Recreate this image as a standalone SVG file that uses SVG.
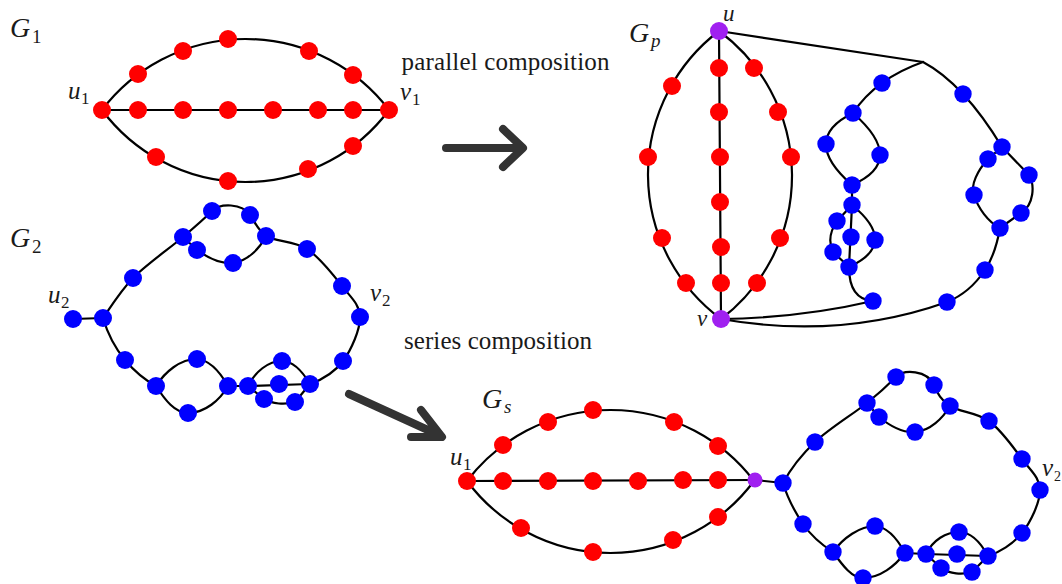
<svg xmlns="http://www.w3.org/2000/svg" width="1062" height="584" viewBox="0 0 1062 584">
<style>
.e{fill:none;stroke:#000;stroke-width:2.2;stroke-linecap:round}
.r{fill:#ff0000}
.b{fill:#0000ff}
.p{fill:#a020f0}
.m{font-family:"Liberation Serif","Times New Roman",serif;font-style:italic;fill:#1a1a1a}
.s{font-family:"Liberation Serif","Times New Roman",serif;fill:#1a1a1a}
.t{font-family:"Liberation Serif","Times New Roman",serif;font-size:25px;fill:#1a1a1a}
.arr{fill:none;stroke:#333;stroke-width:8;stroke-linecap:round;stroke-linejoin:round}
</style>
<rect width="1062" height="584" fill="#fff"/>

<g id="connectors">
  <!-- G1 -->
  <path class="e" d="M102,110 L389,110"/>
  <path class="e" d="M102,110 A180.5,180.5 0 0 1 389,110"/>
  <path class="e" d="M102,110 A179,179 0 0 0 389,110"/>
  <!-- G2 -->
  <path class="e" d="M73,319 L103,318"/>
  <path class="e" d="M103,318 C108,311 120,291.5 133,278 C146.3,264.5 169.8,248.2 183,237 C196.2,225.8 203,220 212,211 C220,203 242,203 250,215 C256,224 258,230 266,236 C275.5,241.7 294.3,240.7 307,249 C319.7,257.3 333.2,274.7 342,286 C350.8,297.3 359.8,304.5 360,317 C360.2,329.5 351.3,349.8 343,361 C334.7,372.2 320.7,380.2 310,384"/>
  <path class="e" d="M183,237 L197,250 C208,258 220,264 233,263 C248,261 260,248 266,236"/>
  <path class="e" d="M103,318 C108,335 115,348 125,360 C135,372 145,380 156,386"/>
  <path class="e" d="M156,386 C165,372 180,359 197,359 C210,360 220,372 228,386"/>
  <path class="e" d="M156,386 C165,400 175,413 188,413 C205,413 220,400 228,386"/>
  <path class="e" d="M228,386 L248,386"/>
  <path class="e" d="M248,386 C255,372 268,361 282,361 C294,361 304,374 310,384"/>
  <path class="e" d="M248,386 L310,384"/>
  <path class="e" d="M248,386 L264,399 C272,404 285,405 295,402 L310,384"/>
  <!-- Gp -->
  <path class="e" d="M719,31 L721,319"/>
  <path class="e" d="M719,31 A180,180 0 0 0 721,319"/>
  <path class="e" d="M719,31 A180,180 0 0 1 721,319"/>
  <path class="e" d="M719,31 L923,62"/>
  <path class="e" d="M923,62 Q876,78.5 853,113"/>
  <path class="e" d="M923,62 Q963.5,83.5 1002,147"/>
  <path class="e" d="M853,113 Q799.5,139 852,185"/>
  <path class="e" d="M853,113 Q907.5,161 852,185"/>
  <path class="e" d="M852,185 L852,205"/>
  <path class="e" d="M852,205 L849,267"/>
  <path class="e" d="M852,205 Q899.5,244 849,267"/>
  <path class="e" d="M852,205 L837,221 Q826,237 833,252 L849,267"/>
  <path class="e" d="M849,267 C849,290 858,300 873,301"/>
  <path class="e" d="M873,301 Q800,318 721,319"/>
  <path class="e" d="M1002,147 L988,159 C978,170 970,185 974,195 C978,208 988,222 1000,228"/>
  <path class="e" d="M1002,147 L1029,175 C1035,185 1034,205 1021,213 L1000,228"/>
  <path class="e" d="M1000,228 C997,245 993,258 985,270 C975,285 962,296 947,302 Q840,340 721,319"/>
  <!-- Gs red -->
  <path class="e" d="M467,481 L755,480"/>
  <path class="e" d="M467,481 A180.5,180.5 0 0 1 754,481"/>
  <path class="e" d="M467,481 A179,179 0 0 0 754,481"/>
  <path class="e" d="M755,480 L783,483"/>
  <!-- Gs blue -->
  <path class="e" d="M783,483 C790,470 801,455.3 815,442 C829,428.7 853.5,413.8 867,403 C880.5,392.2 887,386 896,377 C904,369 927,370 934,385 C938,394 940.8,400 950,406 C959.2,412 977,412.2 989,421 C1001,429.8 1013.5,447.5 1022,459 C1030.5,470.5 1040,477.7 1040,490 C1040,502.3 1030.7,522 1022,533 C1013.3,544 998.8,552.5 988,556"/>
  <path class="e" d="M867,403 L879,417 C890,426 903,433 915,432 C930,431 943,418 950,406"/>
  <path class="e" d="M783,483 C788,500 795,512 803,524 C812,537 822,545 833,552"/>
  <path class="e" d="M833,552 C843,538 860,526 875,526 C888,527 898,540 905,553"/>
  <path class="e" d="M833,552 C843,566 852,578 863,578 C880,578 895,566 905,553"/>
  <path class="e" d="M905,553 L926,554"/>
  <path class="e" d="M926,554 C933,540 946,532 959,532 C972,532 982,545 988,556"/>
  <path class="e" d="M926,554 L988,556"/>
  <path class="e" d="M926,554 L941,568 C950,574 962,575 972,572 L988,556"/>
  <!-- composition arrows -->
  <path class="arr" d="M446,148 L522,148 M503,129 L523,148 L503,167"/>
  <path class="arr" d="M349,394 L441,436 M421,410 L442,437 L411,437"/>
</g>

<!-- G1 nodes -->
<g id="G1-u1"><circle class="r" cx="102" cy="110" r="9"/></g>
<g id="G1-v1"><circle class="r" cx="389" cy="110" r="9"/></g>
<g id="G1-m1"><circle class="r" cx="138" cy="110" r="9"/></g>
<g id="G1-m2"><circle class="r" cx="183" cy="110" r="9"/></g>
<g id="G1-m3"><circle class="r" cx="228" cy="110" r="9"/></g>
<g id="G1-m4"><circle class="r" cx="273" cy="110" r="9"/></g>
<g id="G1-m5"><circle class="r" cx="318" cy="110" r="9"/></g>
<g id="G1-m6"><circle class="r" cx="353" cy="110" r="9"/></g>
<g id="G1-t1"><circle class="r" cx="138" cy="74" r="9"/></g>
<g id="G1-t2"><circle class="r" cx="183" cy="51" r="9"/></g>
<g id="G1-t3"><circle class="r" cx="228" cy="39" r="9"/></g>
<g id="G1-t4"><circle class="r" cx="309" cy="51" r="9"/></g>
<g id="G1-t5"><circle class="r" cx="353" cy="75" r="9"/></g>
<g id="G1-b1"><circle class="r" cx="156" cy="157" r="9"/></g>
<g id="G1-b2"><circle class="r" cx="228" cy="181" r="9"/></g>
<g id="G1-b3"><circle class="r" cx="308" cy="169" r="9"/></g>
<g id="G1-b4"><circle class="r" cx="353" cy="146" r="9"/></g>

<!-- G2 nodes -->
<g id="G2-u2"><circle class="b" cx="73" cy="319" r="9"/></g>
<g id="G2-a0"><circle class="b" cx="103" cy="318" r="9"/></g>
<g id="G2-a1"><circle class="b" cx="133" cy="278" r="9"/></g>
<g id="G2-a2"><circle class="b" cx="183" cy="237" r="9"/></g>
<g id="G2-a3"><circle class="b" cx="212" cy="211" r="9"/></g>
<g id="G2-a4"><circle class="b" cx="250" cy="215" r="9"/></g>
<g id="G2-a5"><circle class="b" cx="266" cy="236" r="9"/></g>
<g id="G2-a6"><circle class="b" cx="197" cy="250" r="9"/></g>
<g id="G2-a7"><circle class="b" cx="233" cy="263" r="9"/></g>
<g id="G2-a8"><circle class="b" cx="307" cy="249" r="9"/></g>
<g id="G2-a9"><circle class="b" cx="342" cy="286" r="9"/></g>
<g id="G2-v2"><circle class="b" cx="360" cy="317" r="9"/></g>
<g id="G2-a11"><circle class="b" cx="343" cy="361" r="9"/></g>
<g id="G2-a12"><circle class="b" cx="310" cy="384" r="9"/></g>
<g id="G2-a13"><circle class="b" cx="125" cy="360" r="9"/></g>
<g id="G2-a14"><circle class="b" cx="156" cy="386" r="9"/></g>
<g id="G2-a15"><circle class="b" cx="197" cy="359" r="9"/></g>
<g id="G2-a16"><circle class="b" cx="188" cy="413" r="9"/></g>
<g id="G2-a17"><circle class="b" cx="228" cy="386" r="9"/></g>
<g id="G2-a18"><circle class="b" cx="248" cy="386" r="9"/></g>
<g id="G2-a19"><circle class="b" cx="282" cy="361" r="9"/></g>
<g id="G2-a20"><circle class="b" cx="279" cy="384" r="9"/></g>
<g id="G2-a21"><circle class="b" cx="264" cy="399" r="9"/></g>
<g id="G2-a22"><circle class="b" cx="295" cy="402" r="9"/></g>

<!-- Gp nodes -->
<g id="Gp-l1"><circle class="r" cx="672" cy="86" r="9"/></g>
<g id="Gp-l2"><circle class="r" cx="648" cy="157" r="9"/></g>
<g id="Gp-l3"><circle class="r" cx="662" cy="238" r="9"/></g>
<g id="Gp-l4"><circle class="r" cx="686" cy="283" r="9"/></g>
<g id="Gp-c1"><circle class="r" cx="719" cy="68" r="9"/></g>
<g id="Gp-c2"><circle class="r" cx="719" cy="112" r="9"/></g>
<g id="Gp-c3"><circle class="r" cx="720" cy="157" r="9"/></g>
<g id="Gp-c4"><circle class="r" cx="720" cy="202" r="9"/></g>
<g id="Gp-c5"><circle class="r" cx="721" cy="247" r="9"/></g>
<g id="Gp-c6"><circle class="r" cx="721" cy="283" r="9"/></g>
<g id="Gp-r1"><circle class="r" cx="754" cy="68" r="9"/></g>
<g id="Gp-r2"><circle class="r" cx="778" cy="112" r="9"/></g>
<g id="Gp-r3"><circle class="r" cx="791" cy="157" r="9"/></g>
<g id="Gp-r4"><circle class="r" cx="780" cy="238" r="9"/></g>
<g id="Gp-r5"><circle class="r" cx="757" cy="283" r="9"/></g>
<g id="Gp-b1"><circle class="b" cx="882" cy="83" r="8.7"/></g>
<g id="Gp-b2"><circle class="b" cx="853" cy="113" r="8.7"/></g>
<g id="Gp-b3"><circle class="b" cx="826" cy="144" r="8.7"/></g>
<g id="Gp-b4"><circle class="b" cx="880" cy="155" r="8.7"/></g>
<g id="Gp-b5"><circle class="b" cx="852" cy="185" r="8.7"/></g>
<g id="Gp-b6"><circle class="b" cx="852" cy="205" r="8.7"/></g>
<g id="Gp-b7"><circle class="b" cx="837" cy="221" r="8.7"/></g>
<g id="Gp-b8"><circle class="b" cx="851" cy="237" r="8.7"/></g>
<g id="Gp-b9"><circle class="b" cx="875" cy="240" r="8.7"/></g>
<g id="Gp-b10"><circle class="b" cx="833" cy="252" r="8.7"/></g>
<g id="Gp-b11"><circle class="b" cx="849" cy="267" r="8.7"/></g>
<g id="Gp-b12"><circle class="b" cx="873" cy="301" r="8.7"/></g>
<g id="Gp-b13"><circle class="b" cx="963" cy="94" r="8.7"/></g>
<g id="Gp-b14"><circle class="b" cx="1002" cy="147" r="8.7"/></g>
<g id="Gp-b15"><circle class="b" cx="988" cy="159" r="8.7"/></g>
<g id="Gp-b16"><circle class="b" cx="1029" cy="175" r="8.7"/></g>
<g id="Gp-b17"><circle class="b" cx="974" cy="195" r="8.7"/></g>
<g id="Gp-b18"><circle class="b" cx="1021" cy="213" r="8.7"/></g>
<g id="Gp-b19"><circle class="b" cx="1000" cy="228" r="8.7"/></g>
<g id="Gp-b20"><circle class="b" cx="985" cy="270" r="8.7"/></g>
<g id="Gp-b21"><circle class="b" cx="947" cy="302" r="8.7"/></g>
<g id="Gp-u"><circle class="p" cx="719" cy="31" r="9"/></g>
<g id="Gp-v"><circle class="p" cx="721" cy="319" r="9"/></g>

<!-- Gs nodes -->
<g id="Gs-u1"><circle class="r" cx="467" cy="481" r="9"/></g>
<g id="Gs-m1"><circle class="r" cx="503" cy="481" r="9"/></g>
<g id="Gs-m2"><circle class="r" cx="548" cy="481" r="9"/></g>
<g id="Gs-m3"><circle class="r" cx="593" cy="481" r="9"/></g>
<g id="Gs-m4"><circle class="r" cx="638" cy="481" r="9"/></g>
<g id="Gs-m5"><circle class="r" cx="683" cy="480" r="9"/></g>
<g id="Gs-m6"><circle class="r" cx="718" cy="480" r="9"/></g>
<g id="Gs-t1"><circle class="r" cx="503" cy="445" r="9"/></g>
<g id="Gs-t2"><circle class="r" cx="548" cy="422" r="9"/></g>
<g id="Gs-t3"><circle class="r" cx="593" cy="410" r="9"/></g>
<g id="Gs-t4"><circle class="r" cx="674" cy="422" r="9"/></g>
<g id="Gs-t5"><circle class="r" cx="718" cy="446" r="9"/></g>
<g id="Gs-d1"><circle class="r" cx="521" cy="528" r="9"/></g>
<g id="Gs-d2"><circle class="r" cx="593" cy="552" r="9"/></g>
<g id="Gs-d3"><circle class="r" cx="673" cy="540" r="9"/></g>
<g id="Gs-d4"><circle class="r" cx="718" cy="517" r="9"/></g>
<g id="Gs-w"><circle class="p" cx="755" cy="480" r="7.5"/></g>
<g id="Gs-b0"><circle class="b" cx="783" cy="483" r="8.7"/></g>
<g id="Gs-b1"><circle class="b" cx="815" cy="442" r="8.7"/></g>
<g id="Gs-b2"><circle class="b" cx="867" cy="403" r="8.7"/></g>
<g id="Gs-b3"><circle class="b" cx="896" cy="377" r="8.7"/></g>
<g id="Gs-b4"><circle class="b" cx="934" cy="385" r="8.7"/></g>
<g id="Gs-b5"><circle class="b" cx="950" cy="406" r="8.7"/></g>
<g id="Gs-b6"><circle class="b" cx="879" cy="417" r="8.7"/></g>
<g id="Gs-b7"><circle class="b" cx="915" cy="432" r="8.7"/></g>
<g id="Gs-b8"><circle class="b" cx="989" cy="421" r="8.7"/></g>
<g id="Gs-b9"><circle class="b" cx="1022" cy="459" r="8.7"/></g>
<g id="Gs-v2"><circle class="b" cx="1040" cy="490" r="8.7"/></g>
<g id="Gs-b11"><circle class="b" cx="1022" cy="533" r="8.7"/></g>
<g id="Gs-b12"><circle class="b" cx="988" cy="556" r="8.7"/></g>
<g id="Gs-b13"><circle class="b" cx="803" cy="524" r="8.7"/></g>
<g id="Gs-b14"><circle class="b" cx="833" cy="552" r="8.7"/></g>
<g id="Gs-b15"><circle class="b" cx="875" cy="526" r="8.7"/></g>
<g id="Gs-b16"><circle class="b" cx="863" cy="578" r="8.7"/></g>
<g id="Gs-b17"><circle class="b" cx="905" cy="553" r="8.7"/></g>
<g id="Gs-b18"><circle class="b" cx="926" cy="554" r="8.7"/></g>
<g id="Gs-b19"><circle class="b" cx="959" cy="532" r="8.7"/></g>
<g id="Gs-b20"><circle class="b" cx="957" cy="554" r="8.7"/></g>
<g id="Gs-b21"><circle class="b" cx="941" cy="568" r="8.7"/></g>
<g id="Gs-b22"><circle class="b" cx="972" cy="572" r="8.7"/></g>

<!-- labels -->
<g id="labels">
  <text class="m" x="10" y="37" font-size="28">G</text><text class="s" x="32" y="43" font-size="19">1</text>
  <text class="m" x="10" y="247" font-size="28">G</text><text class="s" x="32" y="253" font-size="19">2</text>
  <text class="m" x="629" y="42" font-size="28">G</text><text class="m" x="651" y="47" font-size="19">p</text>
  <text class="m" x="482" y="408" font-size="28">G</text><text class="m" x="504" y="413" font-size="19">s</text>
  <text class="m" x="68" y="99" font-size="25">u</text><text class="s" x="81" y="104" font-size="17">1</text>
  <text class="m" x="400" y="100" font-size="25">v</text><text class="s" x="412" y="105" font-size="17">1</text>
  <text class="m" x="48" y="303" font-size="25">u</text><text class="s" x="61" y="308" font-size="17">2</text>
  <text class="m" x="370" y="301" font-size="25">v</text><text class="s" x="382" y="306" font-size="17">2</text>
  <text class="m" x="723" y="21" font-size="23">u</text>
  <text class="m" x="697" y="326" font-size="23">v</text>
  <text class="m" x="450" y="465" font-size="25">u</text><text class="s" x="463" y="470" font-size="17">1</text>
  <text class="m" x="1042" y="476" font-size="25">v</text><text class="s" x="1054" y="481" font-size="14">2</text>
  <text class="t" x="401.5" y="69.5" textLength="208" lengthAdjust="spacing">parallel composition</text>
  <text class="t" x="404" y="348.5" textLength="188" lengthAdjust="spacing">series composition</text>
</g>
</svg>
